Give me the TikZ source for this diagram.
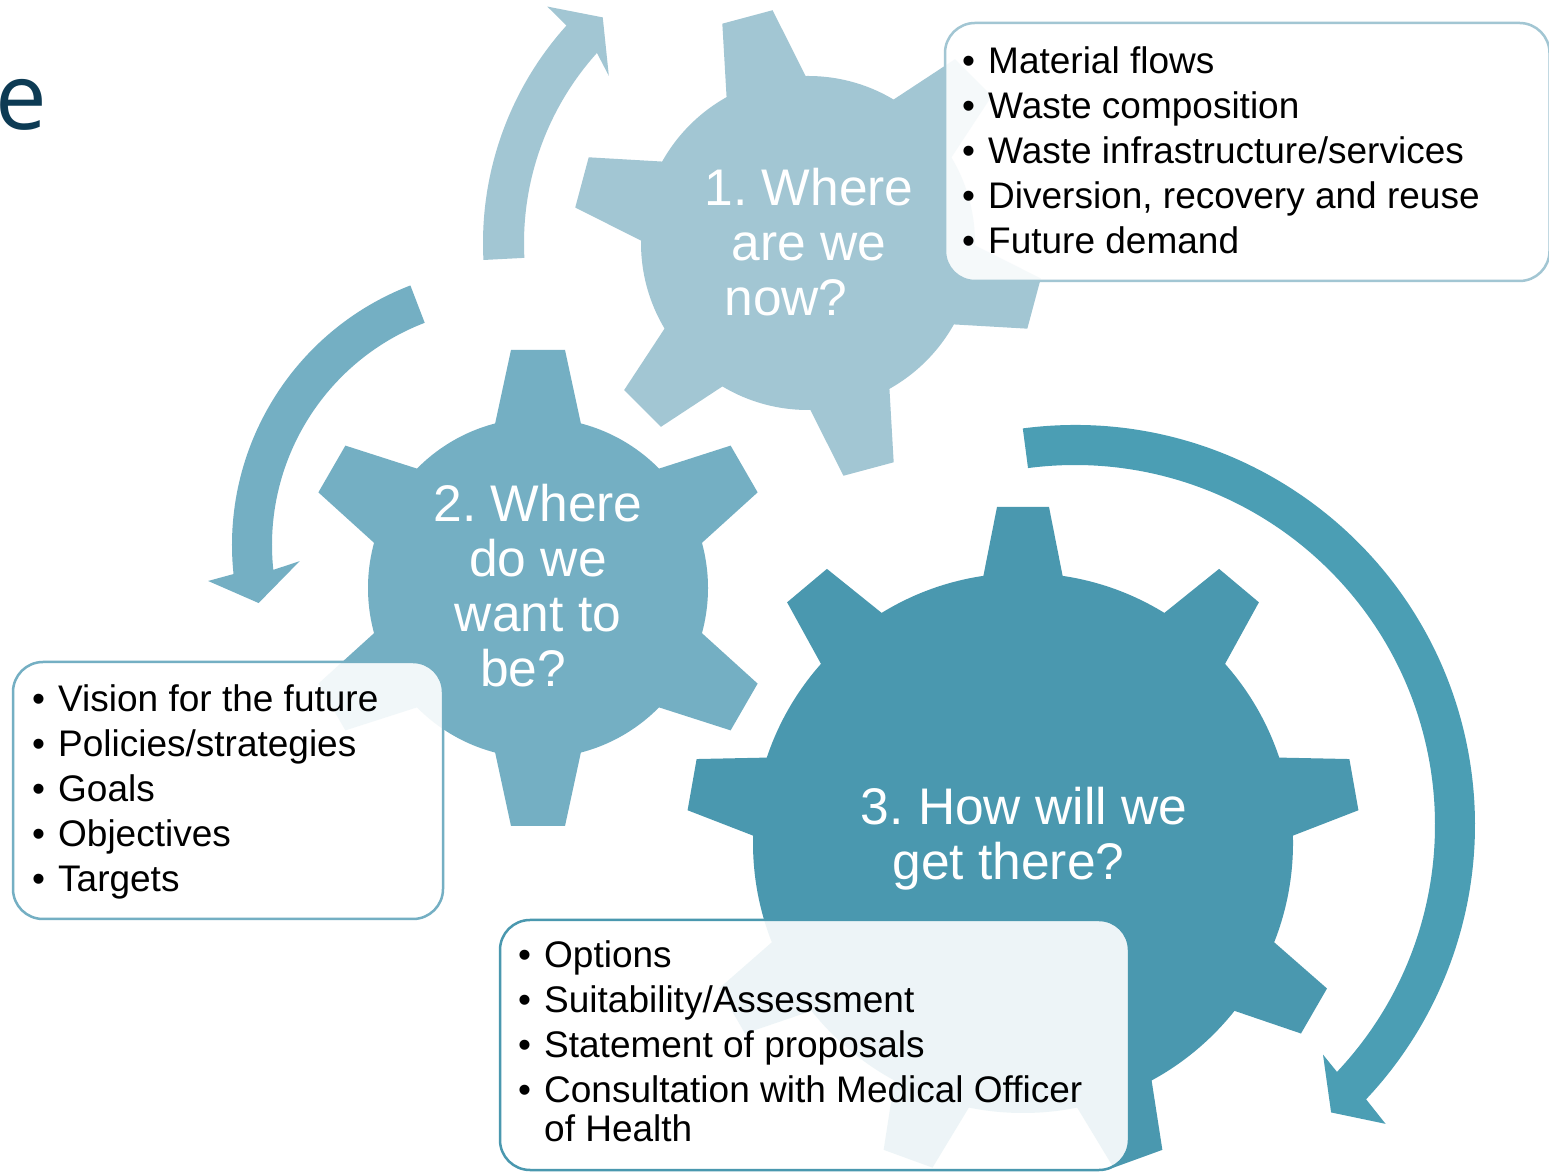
\documentclass[tikz,border=0pt]{standalone}
\usepackage{fontspec}
\setmainfont{Liberation Sans}
\newfontfamily\efont{Open Sans}
\definecolor{gA}{HTML}{A2C6D3}
\definecolor{gB}{HTML}{74AFC3}
\definecolor{gC}{HTML}{4A98AF}
\definecolor{arC}{HTML}{4B9EB4}
\definecolor{navy}{HTML}{0D3B54}
\newcommand{\bul}{\makebox[26pt][l]{•}}
\frenchspacing
\begin{document}
\begin{tikzpicture}[x=1pt,y=1pt,
  gtext/.style={text=white, inner sep=0pt, font=\fontsize{51.5}{55}\selectfont},
  btext/.style={text=black, inner sep=0pt, font=\fontsize{37}{45}\selectfont},
  boxshape/.style={fill=white, fill opacity=0.9, draw=#1, line width=2.5pt, rounded corners=30pt}]
\useasboundingbox (0,0) rectangle (1549,1172);
\fill[white] (0,0) rectangle (1549,1172);

% partial title letter
\node[anchor=base east, inner sep=0pt, text=navy, font=\efont\fontsize{92}{92}\selectfont] (ttl) at (47,1042) {e};

% gear 1
\begin{scope}[shift={(808,929)}]
  \fill[gA] (0,0) circle[radius=167];
  \foreach \a in {105,165,...,405}
    \fill[gA, rotate=\a] (147,-44) -- (234,-26) -- (234,26) -- (147,44) -- cycle;
  % arrow A
  \fill[gA] (183:325) arc[start angle=183, end angle=138, radius=325]
    -- (137.8:352) -- (132.3:305) -- (140:260) -- (138:284)
    arc[start angle=138, end angle=183, radius=284] -- cycle;
\end{scope}

% gear 2
\begin{scope}[shift={(538,584)}]
  \fill[gB] (0,0) circle[radius=170];
  \foreach \a in {90,150,...,390}
    \fill[gB, rotate=\a] (150,-46) -- (238,-27) -- (238,27) -- (150,46) -- cycle;
\end{scope}
% arrow B
\begin{scope}[shift={(510,627)}]
  \fill[gB] (111:278) arc[start angle=111, end angle=186, radius=278]
    -- (186.8:304) -- (193:258) -- (184.4:211) -- (186:238)
    arc[start angle=186, end angle=111, radius=238] -- cycle;
\end{scope}

% gear 3
\begin{scope}[shift={(1023,329)}]
  \fill[gC] (0,0) circle[radius=270];
  \foreach \a in {90,130,...,410}
    \fill[gC, rotate=\a] (250,-43) -- (336,-26) -- (336,26) -- (250,43) -- cycle;
\end{scope}
% arrow C
\begin{scope}[shift={(1075,347)}]
  \fill[arC] (97.5:400) arc[start angle=97.5, end angle=-43.3, radius=400]
    -- (-43.9:431) -- (-48.3:385) -- (-42.8:338) -- (-43.3:360)
    arc[start angle=-43.3, end angle=97.5, radius=360] -- cycle;
\end{scope}

% gear labels
\node[gtext, anchor=base] (t1) at (809,966) {\begin{tabular}[t]{@{}c@{}}1. Where\\are we\\now?\hspace*{46pt}\end{tabular}};
\node[gtext, anchor=base] (t2) at (538,650) {\begin{tabular}[t]{@{}c@{}}2. Where\\do we\\want to\\be?\hspace*{30pt}\end{tabular}};
\node[gtext, anchor=base] (t3) at (1024,347) {\begin{tabular}[t]{@{}c@{}}3. How will we\\get there?\hspace*{31pt}\end{tabular}};

% boxes
\draw[boxshape=gA] (945,891) rectangle (1549.5,1149);
\draw[boxshape=gB] (13,253) rectangle (443,510);
\draw[boxshape=gC] (500,2) rectangle (1129,252);

\node[btext, anchor=base west] (l1) at (962,1098) {\begin{tabular}[t]{@{}l@{}}\bul Material flows\\\bul Waste composition\\\bul Waste infrastructure/services\\\bul Diversion, recovery and reuse\\\bul Future demand\end{tabular}};
\node[btext, anchor=base west] (l2) at (32,460) {\begin{tabular}[t]{@{}l@{}}\bul Vision for the future\\\bul Policies/strategies\\\bul Goals\\\bul Objectives\\\bul Targets\end{tabular}};
\node[btext, anchor=base west] (l3) at (518,204) {\begin{tabular}[t]{@{}l@{}}\bul Options\\\bul Suitability/Assessment\\\bul Statement of proposals\\\bul Consultation with Medical Officer\\[-6pt]\hspace*{26pt}of Health\end{tabular}};
\end{tikzpicture}
\end{document}
